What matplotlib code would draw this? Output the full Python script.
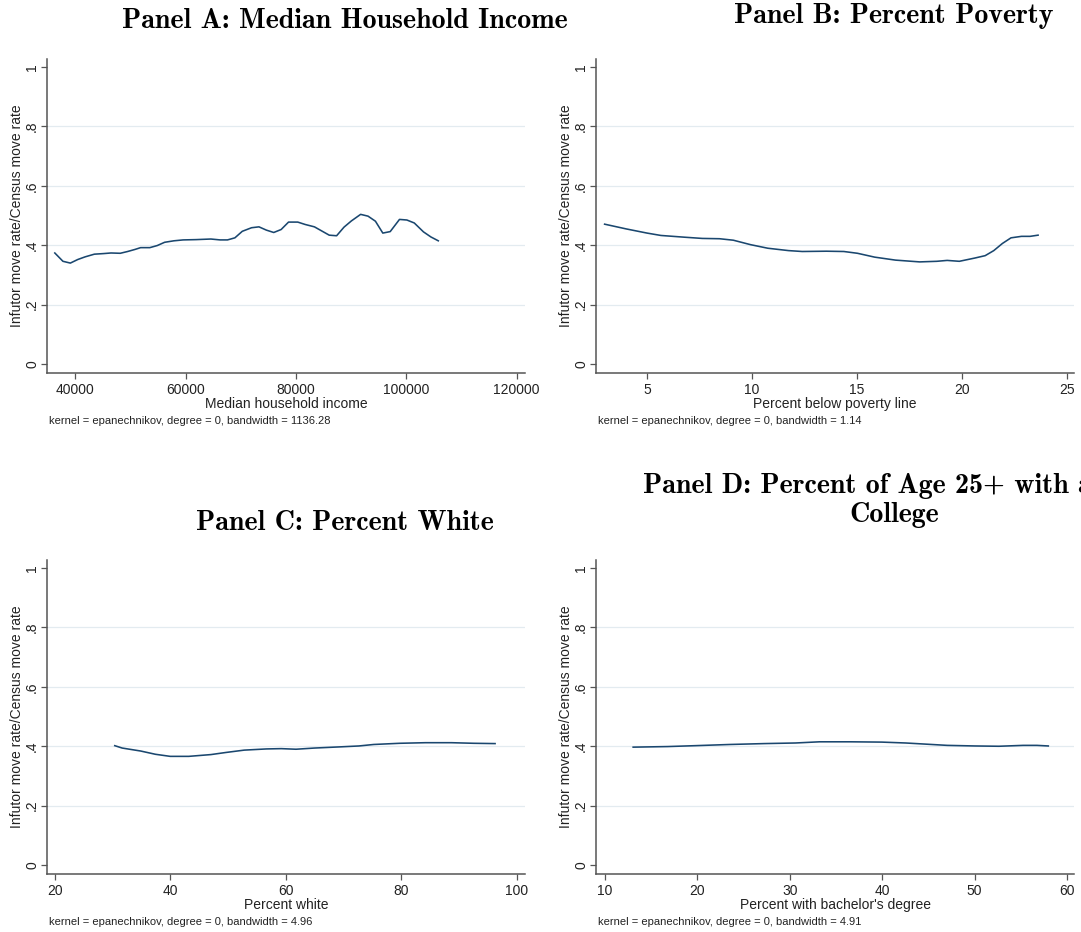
import matplotlib
matplotlib.use("Agg")
import matplotlib.pyplot as plt

# ---- data: local-mean smooths of Infutor/Census move-rate ratio ----
income_x = [36315, 37790, 39130, 40470, 41810, 43480, 45160, 46500, 48170, 49510,
            50850, 51860, 53530, 54870, 56210, 57890, 59560, 61910, 64590, 66260,
            67600, 68940, 70280, 71960, 73300, 74640, 75980, 77320, 78660, 80330,
            81670, 83350, 84690, 86030, 87370, 88710, 90050, 91720, 93060, 94400,
            95740, 97080, 98760, 100100, 101440, 103110, 104450, 105790]
income_y = [0.374, 0.346, 0.340, 0.352, 0.361, 0.370, 0.372, 0.374, 0.373, 0.379,
            0.386, 0.392, 0.392, 0.399, 0.410, 0.415, 0.418, 0.419, 0.421, 0.418,
            0.418, 0.425, 0.447, 0.459, 0.462, 0.451, 0.443, 0.453, 0.478, 0.478,
            0.470, 0.462, 0.448, 0.434, 0.432, 0.461, 0.482, 0.504, 0.498, 0.481,
            0.441, 0.446, 0.487, 0.485, 0.475, 0.445, 0.428, 0.415]

poverty_x = [2.98, 4.01, 5.00, 5.66, 6.81, 7.63, 8.45, 9.11, 9.93, 10.75,
             11.74, 12.39, 13.54, 14.37, 15.02, 15.84, 16.83, 17.98, 18.80, 19.29,
             19.87, 20.61, 21.10, 21.51, 21.92, 22.33, 22.83, 23.24, 23.62]
poverty_y = [0.471, 0.455, 0.441, 0.433, 0.427, 0.423, 0.422, 0.417, 0.402, 0.390,
             0.382, 0.379, 0.380, 0.379, 0.373, 0.360, 0.350, 0.344, 0.346, 0.349,
             0.346, 0.357, 0.365, 0.382, 0.406, 0.425, 0.430, 0.430, 0.434]

white_x = [30.38, 31.66, 34.86, 37.42, 39.98, 43.19, 47.03, 49.59, 52.79, 56.64,
           59.20, 61.76, 64.96, 69.45, 72.65, 75.21, 79.69, 84.18, 88.66, 92.51, 96.22]
white_y = [0.402, 0.394, 0.384, 0.373, 0.366, 0.366, 0.372, 0.379, 0.387, 0.391,
           0.392, 0.390, 0.394, 0.398, 0.401, 0.406, 0.410, 0.412, 0.412, 0.410, 0.409]

college_x = [13.06, 16.80, 19.78, 23.52, 27.25, 30.61, 33.23, 36.59, 39.95, 42.56,
             44.80, 47.04, 50.03, 52.64, 55.26, 56.75, 57.98]
college_y = [0.397, 0.399, 0.402, 0.406, 0.409, 0.411, 0.415, 0.415, 0.414, 0.411,
             0.407, 0.403, 0.401, 0.400, 0.403, 0.403, 0.401]

y_ticks = [0, 0.2, 0.4, 0.6, 0.8, 1.0]
y_tick_labels = ["0", ".2", ".4", ".6", ".8", "1"]
y_title = "Infutor move rate/Census move rate"

income_ticks = [40000, 60000, 80000, 100000, 120000]
poverty_ticks = [5, 10, 15, 20, 25]
white_ticks = [20, 40, 60, 80, 100]
college_ticks = [10, 20, 30, 40, 50, 60]

x_titles = ["Median household income", "Percent below poverty line",
            "Percent white", "Percent with bachelor's degree"]
bandwidths = ["1136.28", "1.14", "4.96", "4.91"]

# ---- layout (pixel based) ----
W, H = 1081, 932
fig = plt.figure(figsize=(W / 100, H / 100), dpi=100)
fig.patch.set_facecolor("white")

SANS = "Liberation Sans"
TITLE_FONT = "cmb10"
TITLE_SIZE = 20.2
LINE_COLOR = "#1a476f"
AXIS_COLOR = "#555555"
GRID_COLOR = "#e3ebf0"
TEXT_COLOR = "#222222"


def fx(x):
    return x / W


def fy(y):
    return 1 - y / H


panels = [
    dict(x=income_x, y=income_y, ticks=income_ticks, xlim=(34900, 121500),
         left=47, top=59),
    dict(x=poverty_x, y=poverty_y, ticks=poverty_ticks, xlim=(2.57, 25.33),
         left=596, top=59),
    dict(x=white_x, y=white_y, ticks=white_ticks, xlim=(18.65, 101.4),
         left=47, top=560),
    dict(x=college_x, y=college_y, ticks=college_ticks, xlim=(9.04, 60.76),
         left=596, top=560),
]
AX_W, AX_H = 478, 314

for i, p in enumerate(panels):
    l, t = p["left"], p["top"]
    ax = fig.add_axes([fx(l), fy(t + AX_H), AX_W / W, AX_H / H])
    ax.set_xlim(*p["xlim"])
    ax.set_ylim(-0.03, 1.027)
    for yv in y_ticks[1:-1]:
        ax.axhline(yv, color=GRID_COLOR, lw=0.9, zorder=0)
    ax.plot(p["x"], p["y"], color=LINE_COLOR, lw=1.15, zorder=3)

    for side in ("top", "right"):
        ax.spines[side].set_visible(False)
    for side in ("left", "bottom"):
        ax.spines[side].set_color(AXIS_COLOR)
        ax.spines[side].set_linewidth(1.1)

    ax.set_xticks(p["ticks"])
    ax.set_xticklabels([str(v) for v in p["ticks"]], fontsize=10, family=SANS,
                       color=TEXT_COLOR)
    ax.set_yticks(y_ticks)
    ax.set_yticklabels(y_tick_labels, fontsize=10, family=SANS, color=TEXT_COLOR,
                       rotation=90, va="center")
    ax.tick_params(axis="both", length=4.2, width=0.9, color=AXIS_COLOR)
    ax.tick_params(axis="x", pad=3)
    ax.tick_params(axis="y", pad=1.5)

    # axis titles and smoother note
    fig.text(fx(l - 30), fy(t + AX_H / 2), y_title, rotation=90, ha="center",
             va="center", fontsize=10, family=SANS, color=TEXT_COLOR)
    fig.text(fx(l + AX_W / 2), fy(t + 349), x_titles[i], ha="center",
             va="baseline", fontsize=10, family=SANS, color=TEXT_COLOR)
    fig.text(fx(l + 2), fy(t + 365),
             "kernel = epanechnikov, degree = 0, bandwidth = " + bandwidths[i],
             ha="left", va="baseline", fontsize=8, family=SANS, color=TEXT_COLOR)

# panel titles
fig.text(fx(344.5), fy(28), "Panel A: Median Household Income", ha="center",
         va="baseline", fontsize=TITLE_SIZE, family=TITLE_FONT)
fig.text(fx(894), fy(23), "Panel B: Percent Poverty", ha="center",
         va="baseline", fontsize=TITLE_SIZE, family=TITLE_FONT)
fig.text(fx(344.5), fy(530), "Panel C: Percent White", ha="center",
         va="baseline", fontsize=TITLE_SIZE, family=TITLE_FONT)
fig.text(fx(643), fy(493), "Panel D: Percent of Age 25+ with a 4-Year",
         ha="left", va="baseline", fontsize=TITLE_SIZE, family=TITLE_FONT)
fig.text(fx(894), fy(522), "College", ha="center", va="baseline",
         fontsize=TITLE_SIZE, family=TITLE_FONT)

fig.savefig("out.png", dpi=100)
